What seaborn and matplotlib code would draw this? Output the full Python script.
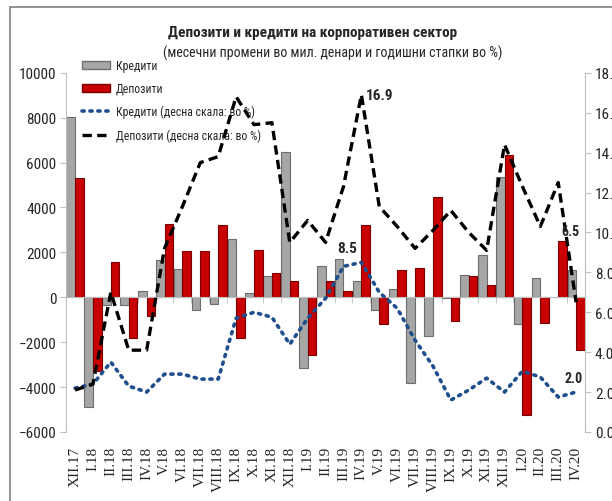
import matplotlib
matplotlib.use("Agg")
import matplotlib.pyplot as plt
from matplotlib.patches import Patch, Rectangle
from matplotlib.lines import Line2D
from matplotlib.ticker import FormatStrFormatter
import numpy as np
import pandas as pd
import seaborn as sns

sns.set_style("white")
plt.rcParams["font.family"] = ["Roboto Condensed", "PT Sans Narrow", "Fira Sans Condensed",
                               "Open Sans Condensed", "Liberation Sans", "DejaVu Sans"]

# data
months = ["XII.17", "I.18", "II.18", "III.18", "IV.18", "V.18", "VI.18", "VII.18",
          "VIII.18", "IX.18", "X.18", "XI.18", "XII.18", "I.19", "II.19", "III.19",
          "IV.19", "V.19", "VI.19", "VII.19", "VIII.19", "IX.19", "X.19", "XI.19",
          "XII.19", "I.20", "II.20", "III.20", "IV.20"]

credits = [8050, -4870, -350, -350, 260, 1680, 1270, -580, -290, 2600, 200, 930,
           6490, -3140, 1390, 1690, 730, -550, 350, -3800, -1720, -50, 980, 1900,
           5360, -1180, 850, 20, 1200]
deposits = [5320, -3300, 1590, -1800, -850, 3250, 2050, 2050, 3200, -1800, 2120, 1100,
            740, -2590, 730, 270, 3200, -1180, 1230, 1300, 4470, -1070, 950, 530,
            6320, -5260, -1130, 2490, -2340]

credit_rate = [2.2, 2.4, 3.5, 2.3, 2.0, 2.9, 2.9, 2.65, 2.65, 5.7, 6.0, 5.75, 4.4,
               5.7, 6.7, 8.3, 8.5, 7.0, 6.2, 4.6, 3.3, 1.6, 2.1, 2.7, 2.0, 3.05,
               2.75, 1.75, 2.0]
deposit_rate = [2.1, 2.4, 7.0, 4.1, 4.1, 9.2, 11.3, 13.5, 13.8, 16.8, 15.4, 15.5, 9.5,
                10.6, 9.5, 12.3, 16.9, 11.3, 10.3, 9.2, 10.1, 11.1, 10.0, 9.1, 14.4,
                12.3, 10.3, 12.5, 6.5]

lbl_credit = "Кредити"
lbl_deposit = "Депозити"
lbl_credit_rate = "Кредити (десна скала: во %)"
lbl_deposit_rate = "Депозити (десна скала: во %)"

gray, gray_edge = "#a6a6a6", "#6e6e6e"
red, red_edge = "#c80000", "#7a0000"

bars = pd.DataFrame({
    "month": months * 2,
    "value": credits + deposits,
    "series": [lbl_credit] * len(months) + [lbl_deposit] * len(months),
})
rates = pd.DataFrame({
    "pos": range(len(months)),
    "credit": credit_rate,
    "deposit": deposit_rate,
})

fig = plt.figure(figsize=(6.12, 5.02), dpi=100)
ax = fig.add_axes([0.108, 0.1375, 0.848, 0.7155])

sns.barplot(data=bars, x="month", y="value", hue="series",
            palette={lbl_credit: gray, lbl_deposit: red},
            width=0.96, saturation=1, ax=ax, legend=False)
n = len(months)
for i, bar in enumerate(ax.patches[:2 * n]):
    bar.set_edgecolor(gray_edge if i < n else red_edge)
    bar.set_linewidth(0.8)

ax.set_ylim(-6000, 10000)
ax.set_yticks(range(-6000, 10001, 2000))
ax.set_xlim(-0.5, n - 0.5)
ax.set_xlabel("")
ax.set_ylabel("")

for s in ["top", "right"]:
    ax.spines[s].set_visible(False)
ax.spines["left"].set_color("#bfbfbf")
ax.spines["bottom"].set_position(("data", 0))
ax.spines["bottom"].set_color("#bfbfbf")
ax.set_xticks(range(n))
ax.set_xticklabels(months, rotation=90, family=["Liberation Serif", "DejaVu Serif"],
                   fontsize=11, va="top")
ax.set_xticks(np.arange(n + 1) - 0.5, minor=True)
ax.tick_params(axis="x", which="major", length=0, pad=107)
ax.tick_params(axis="x", which="minor", length=4, direction="out", color="#bfbfbf",
               bottom=True)
ax.tick_params(axis="y", length=4, direction="out", color="#bfbfbf", left=True,
               labelsize=11, pad=3)

ax2 = ax.twinx()
sns.lineplot(data=rates, x="pos", y="credit", ax=ax2, color="#1f4e8c",
             linestyle=(0, (0.6, 1.6)), linewidth=2.6, dash_capstyle="round")
sns.lineplot(data=rates, x="pos", y="deposit", ax=ax2, color="black",
             linestyle=(0, (2.8, 1.6)), linewidth=2.4)
ax2.set_ylim(0, 18)
ax2.set_yticks(np.arange(0, 18.1, 2))
ax2.yaxis.set_major_formatter(FormatStrFormatter("%.1f"))
ax2.set_ylabel("")
for s in ["top", "left", "bottom"]:
    ax2.spines[s].set_visible(False)
ax2.spines["right"].set_color("#bfbfbf")
ax2.tick_params(axis="y", length=4, direction="out", color="#bfbfbf", right=True,
                labelsize=11, pad=3)

# data labels
ip = months.index("IV.19")
ax2.annotate(f"{deposit_rate[ip]:.1f}", (ip, deposit_rate[ip]), xytext=(3, 0),
             textcoords="offset points", fontsize=11, fontweight="bold", va="center")
ax2.annotate(f"{credit_rate[ip]:.1f}", (ip, credit_rate[ip]), xytext=(-3, 10),
             textcoords="offset points", fontsize=11, fontweight="bold",
             ha="right", va="center")
il = n - 1
ax2.annotate(f"{deposit_rate[il]:.1f}", (il, deposit_rate[il]), xytext=(-4, 51),
             textcoords="offset points", fontsize=10, fontweight="bold",
             ha="center", va="center")
ax2.annotate(f"{credit_rate[il]:.1f}", (il, credit_rate[il]), xytext=(-2, 10),
             textcoords="offset points", fontsize=10, fontweight="bold",
             ha="center", va="center")

handles = [
    Patch(facecolor=gray, edgecolor=gray_edge),
    Patch(facecolor=red, edgecolor=red_edge),
    Line2D([], [], color="#1f4e8c", linestyle=(0, (0.6, 1.6)), linewidth=2.6,
           dash_capstyle="round"),
    Line2D([], [], color="black", linestyle=(0, (2.8, 1.6)), linewidth=2.4),
]
ax2.legend(handles, [lbl_credit, lbl_deposit, lbl_credit_rate, lbl_deposit_rate],
           loc="upper left", bbox_to_anchor=(0.126, 0.89), bbox_transform=fig.transFigure,
           frameon=False, fontsize=8.5, handlelength=2.4, handleheight=0.6,
           labelspacing=0.85, borderaxespad=0, handletextpad=0.5)

fig.text(0.51, 0.935, "Депозити и кредити на корпоративен сектор", ha="center",
         va="center", fontsize=11, fontweight="bold")
fig.text(0.543, 0.893, "(месечни промени во мил. денари и годишни стапки во %)",
         ha="center", va="center", fontsize=10)

fig.add_artist(Rectangle((10 / 612, -0.1), 1.1, 1.1 - 8 / 502, transform=fig.transFigure,
                         fill=False, edgecolor="#808080", linewidth=1.2))

fig.savefig("out.png", dpi=100)
